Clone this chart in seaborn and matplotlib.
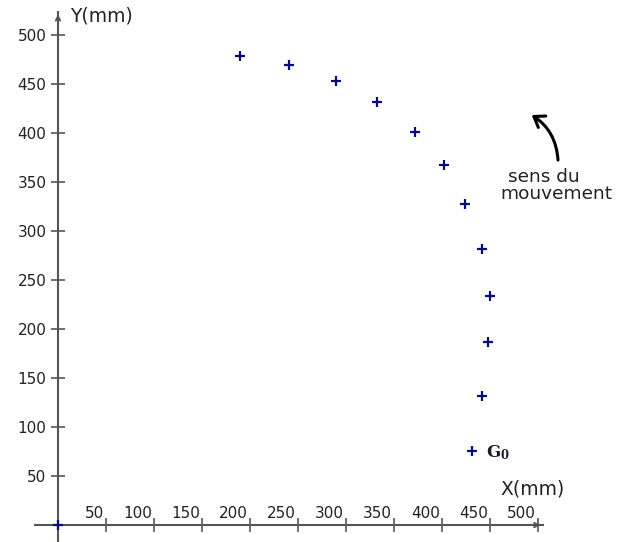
import matplotlib
matplotlib.use("Agg")
import matplotlib.pyplot as plt
import seaborn as sns
from matplotlib.patches import Rectangle

# positions of the centre of gravity G (mm)
x_mm = [0, 431, 441.7, 448.2, 450, 441.7, 424, 401.8, 372, 332.6, 290, 240.9, 189.6]
y_mm = [0, 75.5, 131.6, 186.4, 233.3, 282, 327.5, 367, 401, 432, 453.4, 469.1, 478.6]
x_ticks = [50, 100, 150, 200, 250, 300, 350, 400, 450, 500]
y_ticks = [50, 100, 150, 200, 250, 300, 350, 400, 450, 500]

sns.set_style("white")
plt.rcParams["font.family"] = ["DejaVu Sans"]

axis_col = "#555555"
point_col = "#0a0a80"

fig = plt.figure(figsize=(6.18, 5.42), dpi=100)
fig.patch.set_facecolor("white")
ax = fig.add_axes([0, 0, 1, 1])
ax.set_facecolor("white")

# left beige stripe
fig.add_artist(Rectangle((0, 0), 5 / 618, 1, transform=fig.transFigure,
                         color="#fdefc8", zorder=0))

sns.scatterplot(x=x_mm, y=y_mm, marker="+", color=point_col, s=57,
                linewidth=1.6, ax=ax, zorder=4, clip_on=False)

ax.set_xlim(-60.4, 583.3)
ax.set_ylim(-17.3, 535.7)

# axes through the origin
for side in ["top", "right"]:
    ax.spines[side].set_visible(False)
ax.spines["left"].set_position(("data", 0))
ax.spines["bottom"].set_position(("data", 0))
ax.spines["left"].set_bounds(-17.3, 523.5)
ax.spines["bottom"].set_bounds(-24, 505)
for side in ["left", "bottom"]:
    ax.spines[side].set_color(axis_col)
    ax.spines[side].set_linewidth(1.5)

ax.annotate("", xy=(505.5, 0), xytext=(498, 0),
            arrowprops=dict(arrowstyle="->", color=axis_col, lw=1.3, mutation_scale=8))
ax.annotate("", xy=(0, 524), xytext=(0, 516),
            arrowprops=dict(arrowstyle="->", color=axis_col, lw=1.3, mutation_scale=8))

ax.set_yticks(y_ticks)
ax.set_xticks(x_ticks)
ax.tick_params(axis="both", direction="inout", length=10, width=1.2,
               color=axis_col, labelsize=11, labelcolor="#222222",
               bottom=True, left=True)
ax.tick_params(axis="y", pad=3.4)
ax.tick_params(axis="x", labelbottom=False)

# x tick labels sit above the axis, just left of each tick
for v in x_ticks:
    ax.annotate(str(v), xy=(v, 0), xytext=(-2, 7), textcoords="offset pixels",
                ha="right", va="baseline", fontsize=11, color="#222222")

ax.text(12.5, 513.6, "Y(mm)", fontsize=13.5, ha="left", va="baseline", color="#222222")
ax.text(461, 31.6, "X(mm)", fontsize=13.5, ha="left", va="baseline", color="#222222")

ax.text(445.8, 69.4, r"$\mathbf{G}_{\mathbf{0}}$", math_fontfamily="dejavuserif",
        fontsize=12, ha="left", va="baseline", color="#1a1a2e")

# direction of motion
ax.text(505.7, 350.3, "sens du", fontsize=13.3, ha="center", va="baseline", color="#222222")
ax.text(519.5, 332.3, "mouvement", fontsize=13.3, ha="center", va="baseline", color="#222222")
ax.annotate("", xy=(493.4, 418.4), xytext=(520.8, 372.4),
            arrowprops=dict(arrowstyle="->,head_length=0.5,head_width=0.35",
                            color="black", lw=2.2, mutation_scale=14,
                            connectionstyle="arc3,rad=0.25",
                            shrinkA=0, shrinkB=0))

fig.savefig("out.png", dpi=100)
